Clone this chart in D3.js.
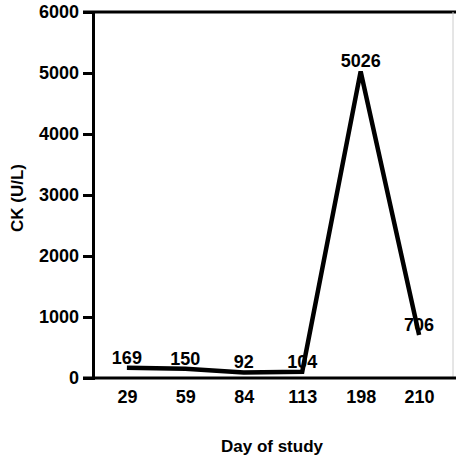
<!DOCTYPE html>
<html>
<head>
<meta charset="utf-8">
<script src="https://cdn.jsdelivr.net/npm/d3@7"></script>
<style>
body { margin: 0; background: #fff; }
text { font-family: "Liberation Sans", Arial, sans-serif; font-weight: bold; fill: #000; }
</style>
</head>
<body>
<svg id="chart" width="456" height="460"></svg>
<script>
var days = ["29", "59", "84", "113", "198", "210"]
var ck = [169, 150, 92, 104, 5026, 706]
var ckLabels = ["169", "150", "92", "104", "5026", "706"]
var yTicks = [0, 1000, 2000, 3000, 4000, 5000, 6000]

var svg = d3.select("#chart")
var plotLeft = 93, plotRight = 453, plotTop = 12, plotBottom = 378

var x = d3.scalePoint()
    .domain(days)
    .range([plotLeft, plotRight])
    .padding(0.58)

var y = d3.scaleLinear()
    .domain([0, 6000])
    .range([plotBottom, plotTop])

// frame: top thick, right faint
svg.append("line")
    .attr("x1", plotLeft - 10).attr("x2", 456)
    .attr("y1", plotTop).attr("y2", plotTop)
    .attr("stroke", "#000").attr("stroke-width", 3)
svg.append("line")
    .attr("x1", 453).attr("x2", 453)
    .attr("y1", plotTop).attr("y2", plotBottom)
    .attr("stroke", "#ccc").attr("stroke-width", 1)

// y axis
var yAxis = svg.append("g")
    .attr("transform", "translate(" + plotLeft + ",0)")
    .call(d3.axisLeft(y).tickValues(yTicks).tickFormat(d3.format("d")).tickSize(10).tickPadding(4))
yAxis.select(".domain").attr("stroke-width", 3)
yAxis.selectAll(".tick line").attr("stroke-width", 3)
yAxis.selectAll("text").style("font-size", "18px").style("font-weight", "bold")

// x axis
var xAxis = svg.append("g")
    .attr("transform", "translate(0," + plotBottom + ")")
    .call(d3.axisBottom(x).tickSize(0).tickPadding(12))
xAxis.select(".domain")
    .attr("d", "M" + (plotLeft - 10) + ",0H456")
    .attr("stroke-width", 3)
xAxis.selectAll("text").style("font-size", "18px").style("font-weight", "bold")

// data line
var line = d3.line()
    .x(function(d, i) { return x(days[i]) })
    .y(function(d) { return y(d) })

svg.append("path")
    .datum(ck)
    .attr("d", line)
    .attr("fill", "none")
    .attr("stroke", "#000")
    .attr("stroke-width", 4.5)
    .attr("stroke-linejoin", "miter")

// value labels
svg.selectAll(".val")
    .data(ck)
    .enter()
    .append("text")
        .attr("class", "val")
        .attr("x", function(d, i) { return x(days[i]) })
        .attr("y", function(d) { return y(d) - 4 })
        .attr("text-anchor", "middle")
        .style("font-size", "18px")
        .text(function(d, i) { return ckLabels[i] })

// axis titles
svg.append("text")
    .attr("x", 272)
    .attr("y", 452)
    .attr("text-anchor", "middle")
    .style("font-size", "17px")
    .text("Day of study")

svg.append("text")
    .attr("transform", "translate(23,198) rotate(-90)")
    .attr("text-anchor", "middle")
    .style("font-size", "17px")
    .text("CK (U/L)")
</script>
</body>
</html>
